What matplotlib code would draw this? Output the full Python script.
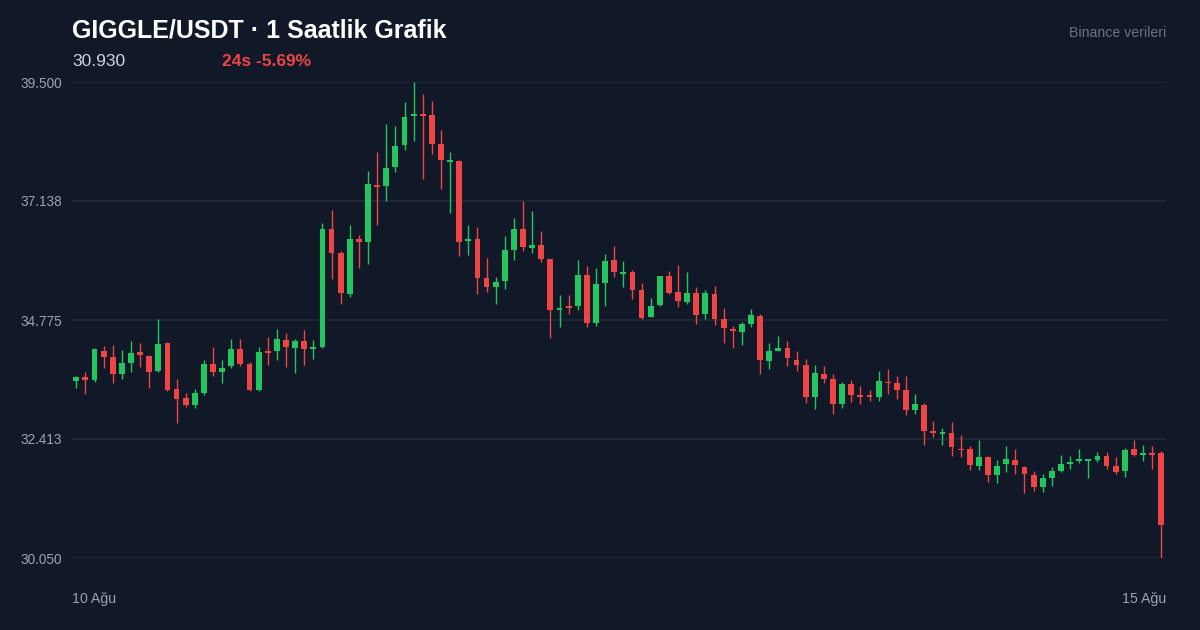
import matplotlib
matplotlib.use('Agg')
import matplotlib.pyplot as plt
import numpy as np

# 1h candles, GIGGLE/USDT
opens = [33.570, 33.643, 33.578, 34.160, 34.040, 33.709, 33.927, 34.140, 34.066, 33.762,
         34.324, 33.405, 33.220, 33.087, 33.332, 33.901, 33.737, 33.856, 34.205, 33.895,
         33.379, 34.160, 34.160, 34.384, 34.225, 34.364, 34.205, 34.233, 36.582, 36.111,
         35.291, 36.389, 36.318, 37.461, 37.429, 37.807, 38.249, 38.825, 38.859, 38.845,
         38.263, 37.918, 37.938, 36.343, 36.383, 35.609, 35.436, 35.555, 36.165, 36.576,
         36.210, 36.264, 35.980, 34.979, 35.047, 35.047, 35.674, 34.721, 35.504, 35.960,
         35.684, 35.722, 35.377, 34.841, 35.067, 35.643, 35.325, 35.126, 35.311, 34.888,
         35.297, 34.795, 34.602, 34.543, 34.702, 34.854, 33.967, 34.165, 34.213, 33.981,
         33.882, 33.246, 33.709, 33.598, 33.107, 33.498, 33.286, 33.280, 33.252, 33.550,
         33.530, 33.379, 32.988, 33.087, 32.565, 32.506, 32.532, 32.220, 32.208, 31.882,
         32.055, 31.698, 31.910, 32.002, 31.862, 31.704, 31.460, 31.638, 31.783, 31.922,
         31.976, 31.982, 31.990, 32.069, 31.870, 31.771, 32.214, 32.101, 32.135, 32.135]
highs = [33.657, 33.743, 34.213, 34.259, 34.273, 34.173, 34.358, 34.318, 34.086, 34.795,
         34.338, 33.598, 33.332, 33.405, 33.975, 34.239, 33.981, 34.398, 34.398, 33.935,
         34.239, 34.438, 34.590, 34.511, 34.392, 34.576, 34.378, 36.701, 36.953, 36.145,
         36.661, 36.457, 37.739, 38.110, 38.660, 38.621, 39.109, 39.500, 39.256, 39.123,
         38.541, 38.110, 37.945, 36.661, 36.621, 36.006, 35.629, 36.449, 36.794, 37.143,
         36.933, 36.542, 35.985, 35.271, 35.265, 35.960, 35.841, 35.807, 36.085, 36.244,
         35.952, 35.768, 35.510, 35.206, 35.650, 35.748, 35.867, 35.728, 35.430, 35.365,
         35.450, 35.013, 34.662, 34.741, 34.987, 34.894, 34.318, 34.457, 34.352, 34.160,
         34.001, 33.882, 33.862, 33.703, 33.538, 33.584, 33.465, 33.385, 33.756, 33.796,
         33.663, 33.663, 33.312, 33.127, 32.764, 32.625, 32.750, 32.492, 32.279, 32.393,
         32.075, 32.002, 32.274, 32.214, 31.870, 31.771, 31.712, 31.857, 32.095, 32.081,
         32.208, 32.022, 32.154, 32.160, 32.061, 32.234, 32.399, 32.299, 32.274, 32.168]
lows = [33.431, 33.300, 33.550, 33.828, 33.530, 33.604, 33.749, 33.848, 33.431, 33.750,
        33.365, 32.724, 33.042, 33.034, 33.280, 33.669, 33.530, 33.828, 33.862, 33.359,
        33.371, 33.882, 33.981, 33.848, 33.729, 33.882, 34.001, 34.225, 35.583, 35.093,
        35.238, 35.813, 35.893, 36.655, 37.143, 37.719, 38.156, 38.335, 37.580, 38.065,
        37.382, 36.905, 36.051, 36.065, 35.297, 35.325, 35.099, 35.396, 35.972, 36.145,
        36.105, 35.926, 34.418, 34.636, 34.894, 34.968, 34.642, 34.656, 35.059, 35.635,
        35.430, 35.198, 34.801, 34.835, 35.060, 35.297, 35.039, 35.099, 34.696, 34.789,
        34.682, 34.312, 34.225, 34.285, 34.636, 33.709, 33.796, 34.160, 33.868, 33.769,
        33.127, 33.002, 33.524, 32.903, 33.034, 33.147, 33.113, 33.161, 33.161, 33.306,
        33.207, 32.895, 32.915, 32.299, 32.458, 32.293, 32.075, 32.061, 31.797, 31.797,
        31.553, 31.539, 31.763, 31.718, 31.346, 31.386, 31.366, 31.479, 31.763, 31.811,
        31.930, 31.632, 31.950, 31.817, 31.723, 31.664, 32.075, 31.976, 31.817, 30.050]
closes = [33.643, 33.590, 34.193, 34.040, 33.709, 33.927, 34.126, 34.086, 33.749, 34.304,
          33.385, 33.213, 33.082, 33.332, 33.895, 33.743, 33.828, 34.199, 33.901, 33.379,
          34.146, 34.126, 34.398, 34.239, 34.364, 34.199, 34.239, 36.588, 36.099, 35.305,
          36.389, 36.318, 37.469, 37.421, 37.793, 38.229, 38.799, 38.859, 38.831, 38.269,
          37.946, 37.951, 36.329, 36.389, 35.609, 35.436, 35.535, 36.165, 36.576, 36.218,
          36.264, 35.980, 34.979, 35.013, 35.007, 35.674, 34.709, 35.496, 35.940, 35.734,
          35.722, 35.371, 34.815, 35.053, 35.643, 35.317, 35.146, 35.305, 34.880, 35.317,
          34.789, 34.616, 34.550, 34.696, 34.874, 33.975, 34.160, 34.219, 34.015, 33.882,
          33.256, 33.717, 33.598, 33.113, 33.510, 33.286, 33.252, 33.246, 33.564, 33.518,
          33.385, 32.988, 33.101, 32.565, 32.526, 32.546, 32.248, 32.188, 31.896, 32.061,
          31.698, 31.882, 32.015, 31.896, 31.723, 31.465, 31.632, 31.783, 31.916, 31.950,
          32.009, 32.002, 32.069, 31.870, 31.763, 32.188, 32.095, 32.129, 32.101, 30.699]

y_ticks = [30.050, 32.413, 34.775, 37.138, 39.500]
x_labels = ['10 Ağu', '15 Ağu']
title = 'GIGGLE/USDT · 1 Saatlik Grafik'
last_price = '30.930'
change_txt = '24s -5.69%'
source_txt = 'Binance verileri'

bg = '#111827'
grid_col = '#1f2937'
up_col = '#22c55e'
down_col = '#ef4444'

plt.rcParams['font.family'] = ['Liberation Sans', 'DejaVu Sans']

o = np.array(opens)
h = np.array(highs)
l = np.array(lows)
c = np.array(closes)
x = np.arange(len(o))
cols = np.where(c >= o, up_col, down_col)

fig = plt.figure(figsize=(12, 6.3), dpi=100, facecolor=bg)
ax = fig.add_axes([72 / 1200, 72 / 630, 1094 / 1200, 476 / 630])
ax.set_facecolor(bg)

ax.vlines(x, l, h, colors=cols, linewidth=1.0, zorder=2)
body_bot = np.minimum(o, c)
body_h = np.maximum(np.abs(c - o), 0.03)
ax.bar(x, body_h, bottom=body_bot, width=0.64, color=cols, linewidth=0, zorder=3)

ax.set_xlim(-0.47, len(o) - 0.48)
ax.set_ylim(min(y_ticks), max(y_ticks))
ax.set_yticks(y_ticks)
ax.set_yticklabels(['%.3f' % v for v in y_ticks])
ax.set_xticks([])
ax.grid(axis='y', color=grid_col, linewidth=1.3, zorder=0)
ax.tick_params(axis='y', length=0, pad=7, labelsize=9.8, labelcolor='#9ca3af')
for s in ax.spines.values():
    s.set_visible(False)

# dates under the plot
fig.text(72 / 1200, 1 - 599 / 630, x_labels[0], color='#9ca3af', fontsize=10.2,
         ha='left', va='center')
fig.text(1166 / 1200, 1 - 599 / 630, x_labels[1], color='#9ca3af', fontsize=10.2,
         ha='right', va='center')

# header
fig.text(72 / 1200, 1 - 30 / 630, title, color='white', fontsize=18, fontweight='bold',
         ha='left', va='center')
fig.text(72 / 1200, 1 - 61 / 630, last_price, color='#d1d5db', fontsize=12.5,
         ha='left', va='center')
fig.text(222 / 1200, 1 - 61 / 630, change_txt, color=down_col, fontsize=12.5,
         fontweight='bold', ha='left', va='center')
fig.text(1166 / 1200, 1 - 33 / 630, source_txt, color='#6b7280', fontsize=10.2,
         ha='right', va='center')

fig.savefig('out.png', dpi=100, facecolor=bg)
